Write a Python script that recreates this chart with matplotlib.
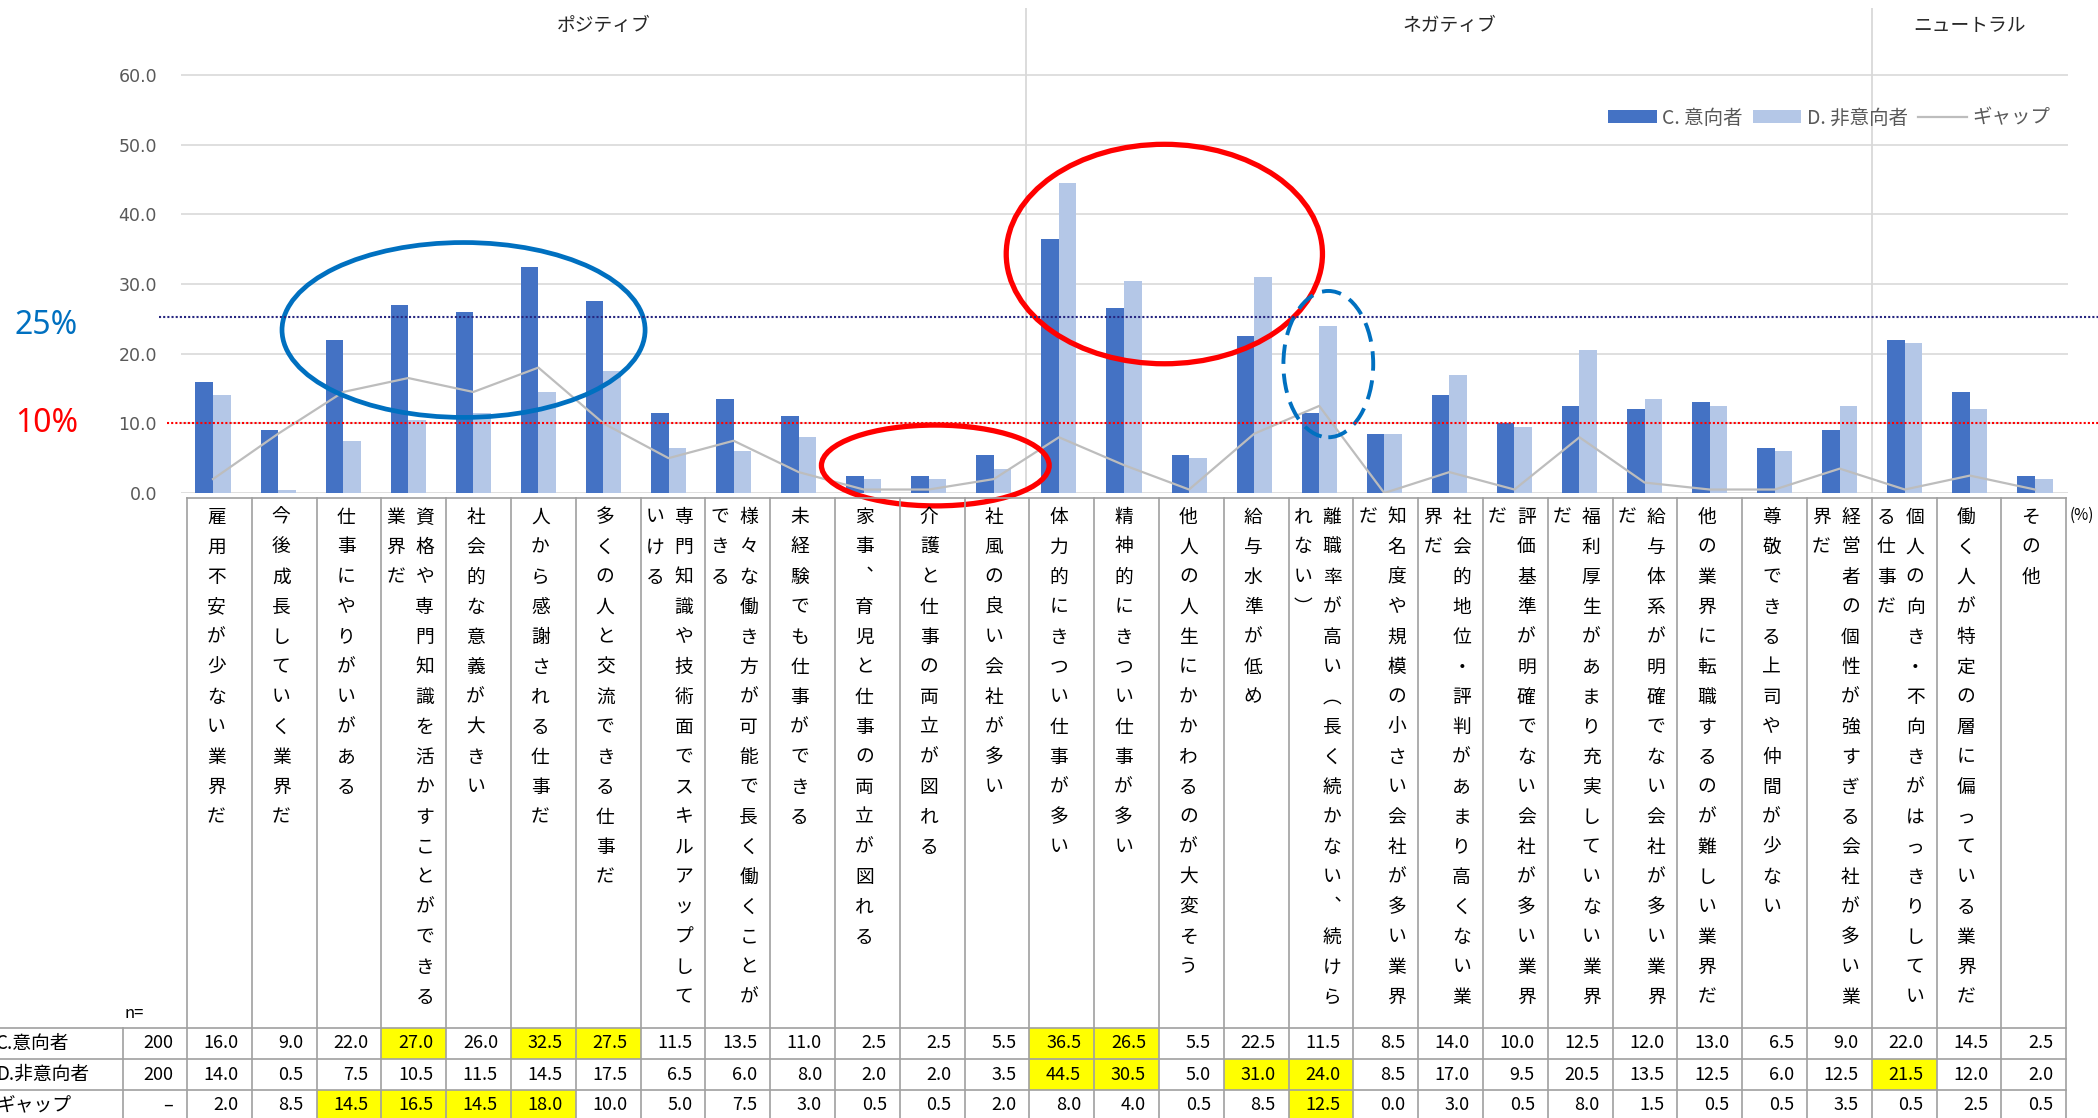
import matplotlib
matplotlib.use("Agg")
import matplotlib.pyplot as plt
import numpy as np
from matplotlib.patches import Ellipse, Rectangle, Patch
from matplotlib.lines import Line2D
import matplotlib.transforms as mtrans

plt.rcParams['font.family'] = ['Noto Sans CJK JP', 'DejaVu Sans']

# ---------------- data ----------------
categories = [
    "雇用不安が少ない業界だ", "今後成長していく業界だ", "仕事にやりがいがある",
    "資格や専門知識を活かすことができる業界だ", "社会的な意義が大きい", "人から感謝される仕事だ",
    "多くの人と交流できる仕事だ", "専門知識や技術面でスキルアップしていける",
    "様々な働き方が可能で長く働くことができる", "未経験でも仕事ができる",
    "家事、育児と仕事の両立が図れる", "介護と仕事の両立が図れる", "社風の良い会社が多い",
    "体力的にきつい仕事が多い", "精神的にきつい仕事が多い", "他人の人生にかかわるのが大変そう",
    "給与水準が低め", "離職率が高い（長く続かない、続けられない）",
    "知名度や規模の小さい会社が多い業界だ", "社会的地位・評判があまり高くない業界だ",
    "評価基準が明確でない会社が多い業界だ", "福利厚生があまり充実していない業界だ",
    "給与体系が明確でない会社が多い業界だ", "他の業界に転職するのが難しい業界だ",
    "尊敬できる上司や仲間が少ない", "経営者の個性が強すぎる会社が多い業界だ",
    "個人の向き・不向きがはっきりしている仕事だ", "働く人が特定の層に偏っている業界だ", "その他",
]
c_values = [16.0, 9.0, 22.0, 27.0, 26.0, 32.5, 27.5, 11.5, 13.5, 11.0, 2.5, 2.5, 5.5,
            36.5, 26.5, 5.5, 22.5, 11.5, 8.5, 14.0, 10.0, 12.5, 12.0, 13.0, 6.5, 9.0,
            22.0, 14.5, 2.5]
d_values = [14.0, 0.5, 7.5, 10.5, 11.5, 14.5, 17.5, 6.5, 6.0, 8.0, 2.0, 2.0, 3.5,
            44.5, 30.5, 5.0, 31.0, 24.0, 8.5, 17.0, 9.5, 20.5, 13.5, 12.5, 6.0, 12.5,
            21.5, 12.0, 2.0]
gap_values = [2.0, 8.5, 14.5, 16.5, 14.5, 18.0, 10.0, 5.0, 7.5, 3.0, 0.5, 0.5, 2.0,
              8.0, 4.0, 0.5, 8.5, 12.5, 0.0, 3.0, 0.5, 8.0, 1.5, 0.5, 0.5, 3.5,
              0.5, 2.5, 0.5]
groups = ["ポジティブ", "ネガティブ", "ニュートラル"]
group_sizes = [13, 13, 3]
series_names = ["C. 意向者", "D. 非意向者", "ギャップ"]
row_headers = ["C.意向者", "D.非意向者", "ギャップ"]
n_values = ["200", "200", "–"]
yticks = [0, 10, 20, 30, 40, 50, 60]

# highlight (style) : indices of yellow cells per row
hl_c = [3, 5, 6, 13, 14]
hl_d = [13, 14, 16, 17, 26]
hl_gap = [2, 3, 4, 5, 17]

# ---------------- layout ----------------
W, H = 2098, 1118
fig = plt.figure(figsize=(W / 100, H / 100), dpi=100)
def fx(px): return px / W
def fy(py): return 1 - py / H

px_per_unit = 6.967
y0_px = 493
top_px = 8
ax_left, ax_right = 180.5, 2067.5
ax = fig.add_axes([fx(ax_left), fy(y0_px), (ax_right - ax_left) / W, (y0_px - top_px) / H])
ymax = (y0_px - top_px) / px_per_unit
n = len(categories)
x = np.arange(n)
ax.set_xlim(-0.5, n - 0.5)
ax.set_ylim(0, ymax)
for s in ax.spines.values():
    s.set_visible(False)
ax.set_xticks([])
ax.set_yticks(yticks)
ax.set_yticklabels([f"{v:.1f}" for v in yticks], fontfamily='DejaVu Sans')
ax.tick_params(axis='y', length=0, pad=17, labelsize=12.5, labelcolor='#595959')
ax.yaxis.grid(True, color='#D9D9D9', lw=1.2)
ax.set_axisbelow(True)

bw = 0.27
b1 = ax.bar(x - bw / 2, c_values, bw, color='#4472C4', zorder=2)
b2 = ax.bar(x + bw / 2, d_values, bw, color='#B4C7E7', zorder=2)
ln, = ax.plot(x, gap_values, color='#BDBDBD', lw=1.6, zorder=3)

# group separators and labels
bounds = np.cumsum(group_sizes)
for b in bounds[:-1]:
    ax.axvline(b - 0.5, color='#D9D9D9', lw=1.3, zorder=1)
tr_grp = mtrans.blended_transform_factory(ax.transData, fig.transFigure)
start = 0
for g, sz in zip(groups, group_sizes):
    cx = start + (sz - 1) / 2
    fig.text(cx, fy(25), g, transform=tr_grp, ha='center', va='center', fontsize=13.5, color='#262626')
    start += sz

# legend
leg = ax.legend([b1, b2, ln], series_names, ncol=3, frameon=False, fontsize=14,
                loc='center right', bbox_to_anchor=(fx(2068), fy(118)), bbox_transform=fig.transFigure,
                handlelength=2.5, handleheight=0.65, handletextpad=0.3, columnspacing=0.5,
                labelcolor='#595959')

# threshold dotted lines (annotations)
tr_h = mtrans.blended_transform_factory(fig.transFigure, ax.transData)
fig.add_artist(Line2D([fx(159), 1], [25.3, 25.3], transform=tr_h, color='#262680', lw=1.5,
                      linestyle=(0, (1, 1)), zorder=5))
fig.add_artist(Line2D([fx(167), 1], [10, 10], transform=tr_h, color='#FF0000', lw=1.5,
                      linestyle=(0, (1, 1)), zorder=5))
fig.text(fx(15), fy(326), "25%", color='#0070C0', fontsize=23, ha='left', va='center', family='Noto Sans')
fig.text(fx(15), fy(423), "10%", color='#FF0000', fontsize=23, ha='left', va='center', family='Noto Sans')

# annotation ellipses
ax.add_patch(Ellipse((3.85, 23.4), 5.58, 25.1, fill=False, ec='#0070C0', lw=3.4, zorder=6, clip_on=False))
ax.add_patch(Ellipse((14.62, 34.3), 4.86, 31.5, fill=False, ec='#FF0000', lw=3.8, zorder=6, clip_on=False))
ax.add_patch(Ellipse((11.10, 3.95), 3.50, 11.6, fill=False, ec='#FF0000', lw=3.8, zorder=6, clip_on=False))
ax.add_patch(Ellipse((17.14, 18.5), 1.38, 21.0, fill=False, ec='#0070C0', lw=2.8, zorder=6,
                     clip_on=False, linestyle=(0, (5, 2.5))))

# ---------------- table ----------------
col0 = 187.0
colw = 64.8
lab_top = 498
row_tops = [1028, 1059, 1090]
row_h = 31
bottom = 1125
gridc = '#A0A0A0'
glw = 1.2

def hline(x0, x1, y):
    fig.add_artist(Line2D([fx(x0), fx(x1)], [fy(y), fy(y)], transform=fig.transFigure, color=gridc, lw=glw))
def vline(xp, y0, y1):
    fig.add_artist(Line2D([fx(xp), fx(xp)], [fy(y0), fy(y1)], transform=fig.transFigure, color=gridc, lw=glw))

right_edge = col0 + colw * n
# yellow cells
for r, idxs in enumerate([hl_c, hl_d, hl_gap]):
    for i in idxs:
        fig.add_artist(Rectangle((fx(col0 + colw * i), fy(row_tops[r] + row_h)), colw / W, row_h / H,
                                 transform=fig.transFigure, fc='#FFFF00', ec='none'))

hline(col0, right_edge, lab_top)
for yr in row_tops:
    hline(0, right_edge, yr)
for k in range(n + 1):
    vline(col0 + colw * k, lab_top, bottom)
vline(123, row_tops[0], bottom)

# vertical category labels
vmap = {'（': '︵', '）': '︶', '、': '︑'}
per_col = 17
pitch = 30
for i, lab in enumerate(categories):
    cx = col0 + colw * (i + 0.5)
    chunks = [lab[j:j + per_col] for j in range(0, len(lab), per_col)]
    if len(chunks) == 1:
        xs = [cx - 3]
    else:
        xs = [cx + 11, cx - 18]
    for xc, chunk in zip(xs, chunks):
        for k, ch in enumerate(chunk):
            fig.text(fx(xc), fy(517 + pitch * k), vmap.get(ch, ch), ha='center', va='center',
                     fontsize=13.5, color='black')

fig.text(fx(134), fy(1013), "n=", ha='center', va='center', fontsize=12)
fig.text(fx(2082), fy(515), "(%)", ha='center', va='center', fontsize=11)

rows = [c_values, d_values, gap_values]
for r, (hdr, nv, vals) in enumerate(zip(row_headers, n_values, rows)):
    yc = row_tops[r] + row_h / 2
    fig.text(fx(-4), fy(yc), hdr, ha='left', va='center', fontsize=13.5)
    fig.text(fx(173), fy(yc), nv, ha='right', va='center', fontsize=13)
    for i, v in enumerate(vals):
        fig.text(fx(col0 + colw * (i + 1) - 13), fy(yc), f"{v:.1f}", ha='right', va='center', fontsize=13)

fig.savefig("out.png", dpi=100)
